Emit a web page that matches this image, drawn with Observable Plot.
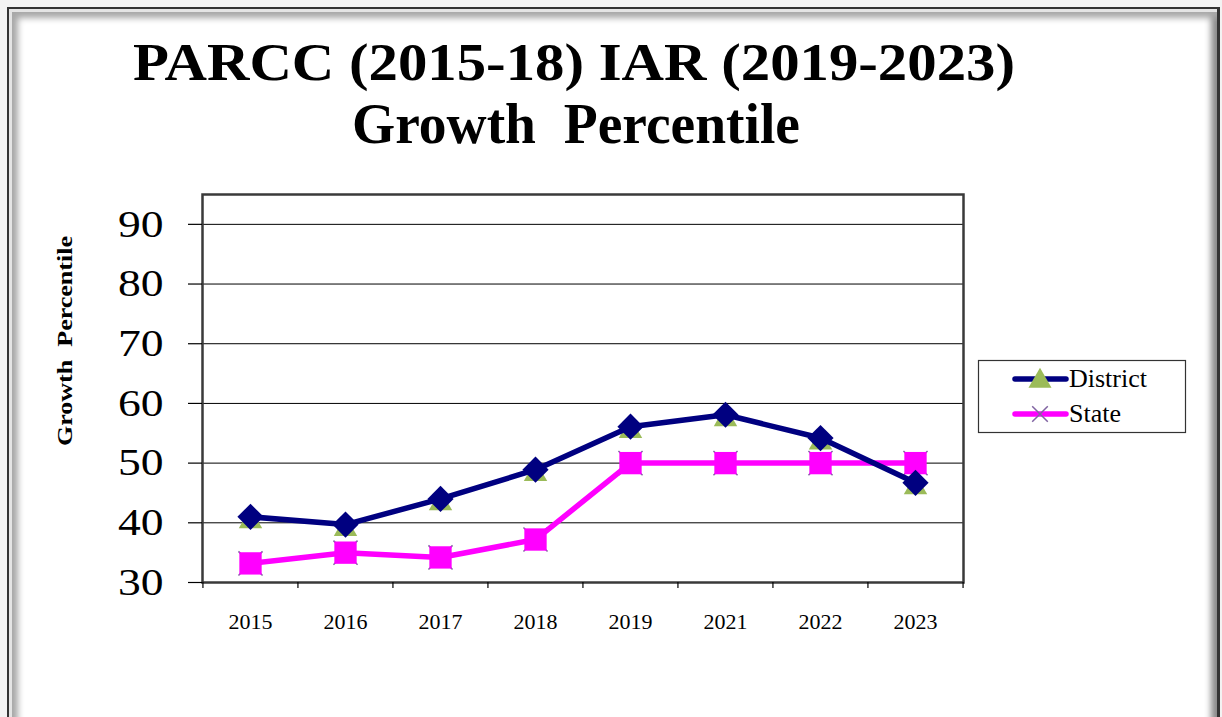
<!DOCTYPE html>
<html>
<head>
<meta charset="utf-8">
<script src="https://cdn.jsdelivr.net/npm/d3@7"></script>
<script src="https://cdn.jsdelivr.net/npm/@observablehq/plot@0.6"></script>
<style>
  html, body { margin: 0; padding: 0; }
  body { width: 1222px; height: 717px; overflow: hidden; position: relative; background: #f3f3f3; font-family: "Liberation Serif", "Times New Roman", serif; }
  #frame { position: absolute; left: 7px; top: 7px; width: 1213px; height: 730px; box-sizing: border-box;
    background: #fff; border-top: 2px solid #333; border-left: 2px solid #333; border-right: 3px solid #333;
    box-shadow: inset 3px 3px 0 #e4e4e4, inset 9px 9px 6px #a8a8a8, inset -9px 0 6px -3px #8a8a8a; }
  #chart { position: absolute; left: 0; top: 0; }
  .overlay { position: absolute; left: 0; top: 0; pointer-events: none; }
</style>
</head>
<body>
<div id="frame"></div>
<div id="chart"></div>
<svg class="overlay" id="ov" width="1222" height="717"></svg>
<script>
// ---- data ----
const years = ["2015", "2016", "2017", "2018", "2019", "2021", "2022", "2023"];
const district = [41.0, 39.7, 44.0, 48.9, 56.1, 58.1, 54.2, 46.7];
const state = [33.2, 35.0, 34.2, 37.2, 50.0, 50.0, 50.0, 50.0];
const yTicks = [30, 40, 50, 60, 70, 80, 90];
const seriesNames = ["District", "State"];
const titleLines = ["PARCC (2015-18) IAR (2019-2023)", "Growth  Percentile"];
const yLabel = "Growth  Percentile";

const districtRows = years.map((year, i) => ({year, value: district[i]}));
const stateRows = years.map((year, i) => ({year, value: state[i]}));

const W = 1222, H = 717;
const mL = 202, mR = 259, mT = 194, mB = 135;
const step = (W - mL - mR) / years.length;
const serif = "'Liberation Serif', 'Times New Roman', serif";
const navy = "#000080", magenta = "#FF00FF", green = "#9BBB59", purple = "#8064A2";

const chart = Plot.plot({
  width: W, height: H,
  marginLeft: mL, marginRight: mR, marginTop: mT, marginBottom: mB,
  style: {background: "transparent", fontFamily: serif, color: "#000", overflow: "visible"},
  x: {type: "point", domain: years, padding: 0.5, label: null},
  y: {domain: [30, 95], label: null},
  marks: [
    Plot.gridY(yTicks.filter(d => d > 30), {stroke: "#000", strokeOpacity: 1, strokeWidth: 1}),
    Plot.frame({stroke: "#3a3a3a", strokeWidth: 2.5}),
    Plot.axisY({ticks: yTicks, tickSize: 14, tickPadding: 25, fontSize: 38, label: null, strokeWidth: 1.2}),
    Plot.axisX({tickSize: 0, tickPadding: 31, fontSize: 22, label: null}),
    Plot.axisX({tickSize: 6, tickFormat: () => "", dx: -step / 2, label: null, strokeWidth: 1.2}),
    Plot.axisX({ticks: [years[years.length - 1]], tickSize: 6, tickFormat: () => "", dx: step / 2, label: null, strokeWidth: 1.2}),
    Plot.dot(stateRows, {x: "year", y: "value", symbol: "times", r: 11, stroke: purple, strokeWidth: 1.5}),
    Plot.dot(districtRows, {x: "year", y: "value", symbol: "triangle", r: 8.7, fill: green, dy: 4.6}),
    Plot.line(stateRows, {x: "year", y: "value", stroke: magenta, strokeWidth: 5.5, strokeLinejoin: "round"}),
    Plot.line(districtRows, {x: "year", y: "value", stroke: navy, strokeWidth: 5.5, strokeLinejoin: "round"}),
    Plot.dot(stateRows, {x: "year", y: "value", symbol: "square", r: 12.6, fill: magenta}),
    Plot.dot(districtRows, {x: "year", y: "value", symbol: "diamond2", r: 11.8, fill: navy})
  ]
});
document.getElementById("chart").appendChild(chart);

// horizontally stretched y tick labels, as in the reference
chart.querySelectorAll('g[aria-label="y-axis tick label"] text').forEach(t => {
  const len = t.getComputedTextLength();
  t.setAttribute("textLength", len * 1.2);
  t.setAttribute("lengthAdjust", "spacingAndGlyphs");
});

// ---- overlay: title, y label, legend ----
const ov = d3.select("#ov");
ov.append("text").attr("x", 133).attr("y", 80)
  .attr("font-family", serif).attr("font-weight", "bold").attr("font-size", 53)
  .attr("textLength", 882).attr("lengthAdjust", "spacingAndGlyphs")
  .style("white-space", "pre").text(titleLines[0]);
ov.append("text").attr("x", 352).attr("y", 143)
  .attr("font-family", serif).attr("font-weight", "bold").attr("font-size", 57)
  .attr("textLength", 448).attr("lengthAdjust", "spacingAndGlyphs")
  .style("white-space", "pre").text(titleLines[1]);

ov.append("text").attr("transform", "translate(72,341) rotate(-90)")
  .attr("text-anchor", "middle")
  .attr("font-family", serif).attr("font-weight", "bold").attr("font-size", 22)
  .attr("textLength", 210).attr("lengthAdjust", "spacingAndGlyphs")
  .style("white-space", "pre").text(yLabel);

const lg = ov.append("g");
lg.append("rect").attr("x", 978.5).attr("y", 360.5).attr("width", 207).attr("height", 72)
  .attr("fill", "#fff").attr("stroke", "#333").attr("stroke-width", 1.2);
const rows = [
  {name: seriesNames[0], color: navy, y: 379, sym: d3.symbolTriangle, size: 230, fill: green, stroke: "none", dy: 2},
  {name: seriesNames[1], color: magenta, y: 414, sym: d3.symbolTimes, size: 160, fill: "none", stroke: purple, dy: 0}
];
rows.forEach(r => {
  lg.append("line").attr("x1", 1015).attr("x2", 1066).attr("y1", r.y).attr("y2", r.y)
    .attr("stroke", r.color).attr("stroke-width", 5.5).attr("stroke-linecap", "round");
  lg.append("path").attr("d", d3.symbol(r.sym, r.size)())
    .attr("transform", `translate(1040,${r.y + r.dy})`)
    .attr("fill", r.fill).attr("stroke", r.stroke).attr("stroke-width", 1.5);
  lg.append("text").attr("x", 1069).attr("y", r.y + 8)
    .attr("font-family", serif).attr("font-size", 26).text(r.name);
});
</script>
</body>
</html>
